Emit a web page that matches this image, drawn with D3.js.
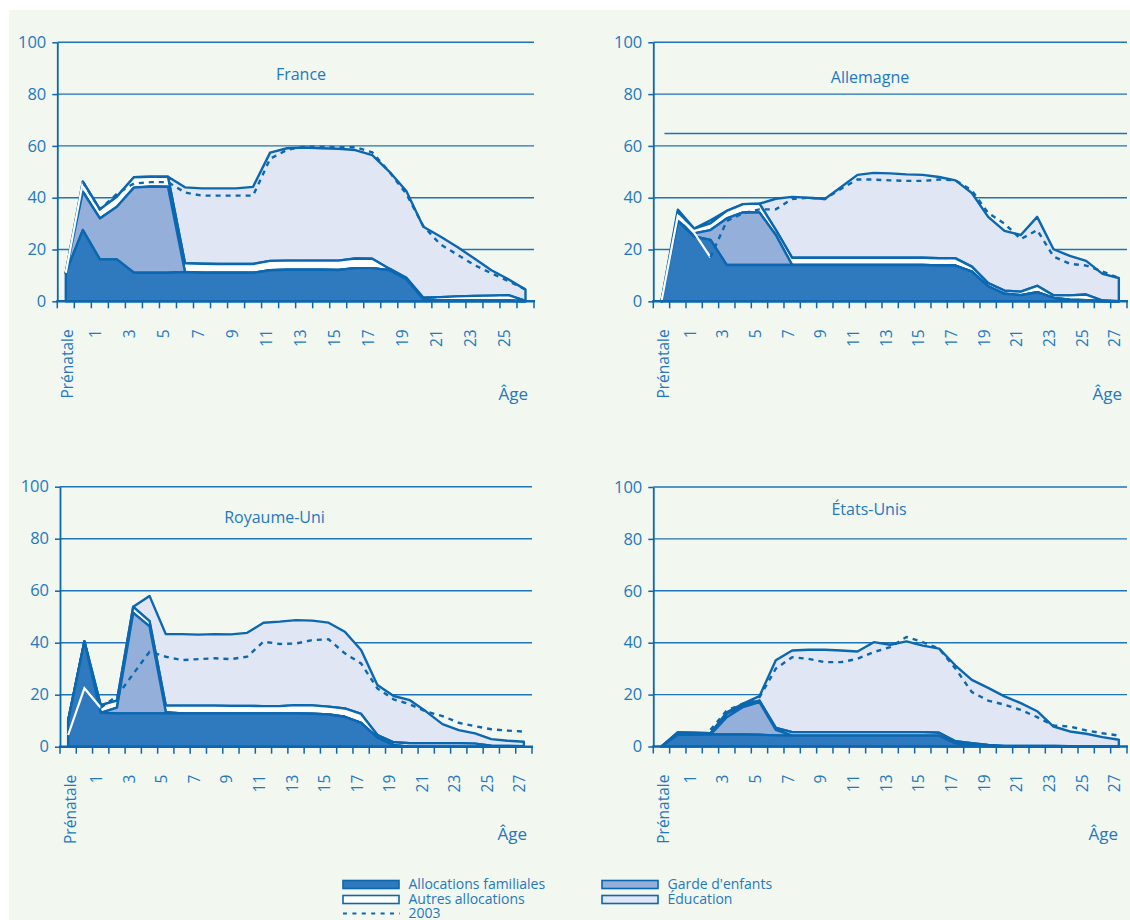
<!DOCTYPE html>
<html>
<head>
<meta charset="utf-8">
<script src="https://cdn.jsdelivr.net/npm/d3@7"></script>
<style>
  body { margin: 0; background: #fff; }
  svg text { font-family: 'Open Sans', sans-serif; fill: #2479be; }
</style>
</head>
<body>
<div id="chart"></div>
<script>
// categories
var catsFR = ['Prénatale','0','1','2','3','4','5','6','7','8','9','10','11','12','13','14','15','16','17','18','19','20','21','22','23','24','25','26'];
var cats = ['Prénatale','0','1','2','3','4','5','6','7','8','9','10','11','12','13','14','15','16','17','18','19','20','21','22','23','24','25','26','27'];
var labelsFR = ['Prénatale','1','3','5','7','9','11','13','15','17','19','21','23','25'];
var labels = ['Prénatale','1','3','5','7','9','11','13','15','17','19','21','23','25','27'];
var yTicks = [0, 20, 40, 60, 80, 100];

// France
var franceAF     = [11, 27.5, 16.2, 16.2, 11, 11, 11, 11.3, 11, 11, 11, 11, 12, 12.2, 12.2, 12.2, 12.1, 12.8, 12.8, 12, 8.5, 0.8, 0.3, 0.3, 0.3, 0.3, 0.3, 0];
var franceGarde  = [0, 14.8, 15.8, 20.3, 32.9, 33.3, 33.2, 0, 0, 0, 0, 0, 0, 0, 0, 0, 0, 0, 0, 0, 0, 0, 0, 0, 0, 0, 0, 0];
var franceAutres = [0, 3.9, 3.5, 3.9, 4, 3.8, 3.9, 3.4, 3.5, 3.4, 3.4, 3.4, 3.6, 3.5, 3.5, 3.5, 3.6, 3.7, 3.6, 0.6, 0.6, 0.6, 1.3, 1.6, 1.8, 1.9, 2.1, 0.2];
var franceEdu    = [0, 0, 0, 0, 0, 0, 0, 29.3, 29.1, 29.2, 29.2, 29.8, 41.8, 43.4, 43.7, 43.4, 43.2, 41.9, 40, 37.5, 33.5, 27.4, 23.4, 19.1, 14.4, 9.8, 6.1, 4.3];
var france2003   = [11, 46, 35.5, 41.5, 45.5, 46, 46, 42, 40.8, 40.8, 40.8, 40.8, 55, 58.5, 59.7, 59.7, 59.5, 59.5, 57.5, 50, 41.5, 29, 22, 18, 14, 10.8, 7.8, 4.6];

// Allemagne
var germanyAF     = [0, 31, 25, 23.7, 14, 14, 14, 14, 14, 14, 14, 14, 14, 14, 14, 14, 14, 13.8, 13.8, 11.5, 5.8, 2.9, 2.4, 3.5, 1.3, 0.6, 0.4, 0, 0];
var germanyGarde  = [0, 0, 1.2, 3.8, 18, 20.3, 20.3, 11.6, 0, 0, 0, 0, 0, 0, 0, 0, 0, 0, 0, 0, 0, 0, 0, 0, 0, 0, 0, 0, 0];
var germanyAutres = [0, 3.4, 1.9, 2.6, 2.9, 3.2, 3.4, 2, 2.8, 2.8, 2.8, 2.8, 2.8, 2.8, 2.8, 2.8, 2.8, 2.8, 2.8, 1.9, 1.2, 1.2, 1.3, 2.5, 1, 1.7, 2.2, 0.3, 0];
var germanyEdu    = [0, 1, 0, 1.2, 0, 0, 0, 12, 23.5, 23.2, 22.7, 27.3, 32, 32.8, 32.6, 32.2, 32, 31.4, 30.1, 28.4, 25.6, 23.1, 21.9, 26.6, 17.8, 15.2, 13, 10.3, 9];
var germany2003   = [0, 33, 26.5, 17, 31, 34, 35.5, 35.5, 39.5, 40, 39.5, 43.5, 47, 47, 46.7, 46.5, 46.5, 47, 46.7, 42.8, 34.1, 30, 24, 27.5, 17.3, 14.5, 13.8, 11.5, 9];
var germanyRefLine = [64.8];

// Royaume-Uni
var ukAF     = [10, 40.5, 13, 12.8, 12.8, 12.8, 12.8, 12.8, 12.8, 12.8, 12.8, 12.8, 12.8, 12.8, 12.8, 12.7, 12.4, 11.5, 9.2, 3.5, 0.6, 0, 0, 0, 0, 0, 0, 0, 0];
var ukGarde  = [0, 0, 0, 2.2, 38.7, 33.5, 0.5, 0, 0, 0, 0, 0, 0, 0, 0, 0, 0, 0, 0, 0, 0, 0, 0, 0, 0, 0, 0, 0, 0];
var ukAutres = [0, 0, 3, 2.7, 2.3, 2, 2.5, 3, 3, 3, 2.9, 2.9, 2.8, 2.8, 3.2, 3.2, 3, 3.2, 3.4, 1, 1.1, 1.3, 1.3, 1.3, 1.3, 1.2, 0.4, 0.3, 0.2];
var ukEdu    = [0, 0, 0, 0, 0, 9.7, 27.5, 27.5, 27.3, 27.5, 27.5, 28.1, 32.1, 32.5, 32.7, 32.6, 32.3, 29.5, 24.6, 19.2, 17.8, 16.6, 12.2, 7.4, 5.1, 3.9, 2.5, 2, 1.7];
var uk2003   = [4.5, 22.5, 15, 19.5, 28, 36.5, 34.6, 33.3, 33.7, 34, 33.7, 34.6, 40.4, 39.5, 39.7, 41, 41.3, 35.9, 32, 22.4, 18.2, 16.3, 13.5, 11.8, 9.2, 7.9, 6.7, 6.2, 5.8];

// États-Unis
var usAF     = [0, 4.5, 4.5, 4.6, 4.6, 4.6, 4.5, 4.3, 4.2, 4.2, 4.2, 4.2, 4.2, 4.2, 4.2, 4.2, 4.2, 4.2, 1.2, 0.6, 0.3, 0, 0, 0, 0, 0, 0, 0, 0];
var usGarde  = [0, 0, 0, 0, 6.7, 10.6, 12.6, 2.1, 0, 0, 0, 0, 0, 0, 0, 0, 0, 0, 0, 0, 0, 0, 0, 0, 0, 0, 0, 0, 0];
var usAutres = [0, 0.8, 0.8, 0.5, 1.2, 0.8, 0.6, 0.8, 1.3, 1.3, 1.3, 1.3, 1.3, 1.3, 1.3, 1.3, 1.3, 1.1, 0.8, 0.7, 0.3, 0.2, 0.2, 0.2, 0.2, 0.1, 0.1, 0, 0];
var usEdu    = [0, 0.2, 0, 0, 0.7, 0.5, 1.7, 26, 31.5, 31.8, 31.8, 31.5, 31.1, 34.7, 33.7, 35, 33.4, 32.4, 29.2, 24.4, 22, 19.1, 16.5, 13.4, 7.5, 5.7, 4.8, 3.6, 2.6];
var us2003   = [null, null, null, 6.4, 13.9, 16.5, 19, 30, 34.4, 33.8, 32.5, 32.5, 33.8, 36.4, 38.3, 42.2, 40.2, 37.7, 30, 21, 17.7, 16.1, 14.1, 11.3, 8.1, 7.7, 6.2, 5.1, 4.2];

var legendItems = [
  { key: 'af', label: 'Allocations familiales' },
  { key: 'garde', label: "Garde d'enfants" },
  { key: 'autres', label: 'Autres allocations' },
  { key: 'edu', label: 'Éducation' },
  { key: 'y2003', label: '2003' }
];

var lineColor = '#0b67b0';
var gridColor = '#1f74b9';
var textColor = '#2479be';
var fills = { af: '#2f7abf', garde: '#94b0da', autres: '#ffffff', edu: '#e0e6f4' };

var panels = [
  { title: 'France', cats: catsFR, labels: labelsFR, af: franceAF, garde: franceGarde, autres: franceAutres, edu: franceEdu, y2003: france2003, white2003: 1,
    x0: 57.3, x1: 534, y0: 301.3, y100: 42.3, tx: 301, ty: 80, ax: 528, ay: 400 },
  { title: 'Allemagne', cats: cats, labels: labels, af: germanyAF, garde: germanyGarde, autres: germanyAutres, edu: germanyEdu, y2003: germany2003, white2003: 3,
    refLine: germanyRefLine, x0: 653.3, x1: 1127, y0: 301.3, y100: 42.3, tx: 870, ty: 83, ax: 1122, ay: 400 },
  { title: 'Royaume-Uni', cats: cats, labels: labels, af: ukAF, garde: ukGarde, autres: ukAutres, edu: ukEdu, y2003: uk2003, white2003: 2,
    x0: 60, x1: 532, y0: 746.7, y100: 486.7, tx: 274.5, ty: 523, ax: 527, ay: 840 },
  { title: 'États-Unis', cats: cats, labels: labels, af: usAF, garde: usGarde, autres: usAutres, edu: usEdu, y2003: us2003, white2003: 0,
    x0: 653.3, x1: 1127, y0: 746.5, y100: 487, tx: 869, ty: 515, ax: 1118, ay: 840 }
];

var W = 1130, H = 920;
var svg = d3.select('#chart').append('svg').attr('width', W).attr('height', H);

svg.append('rect')
  .attr('x', 9).attr('y', 10)
  .attr('width', W - 9).attr('height', H - 10)
  .attr('fill', '#f2f7f0');

panels.forEach(drawPanel);
drawLegend();

function drawPanel(p) {
  var g = svg.append('g');
  var x = d3.scaleBand().domain(p.cats).range([p.x0, p.x1]);
  var y = d3.scaleLinear().domain([0, 100]).range([p.y0, p.y100]);
  var cx = function(c) { return x(c) + x.bandwidth() / 2; };

  // gridlines
  g.selectAll('line.grid')
    .data(yTicks.filter(function(v) { return v > 0; }))
    .join('line')
    .attr('class', 'grid')
    .attr('x1', p.x0).attr('x2', p.x1)
    .attr('y1', function(d) { return y(d); })
    .attr('y2', function(d) { return y(d); })
    .attr('stroke', gridColor)
    .attr('stroke-width', 1.4);

  if (p.refLine) {
    g.selectAll('line.ref')
      .data(p.refLine)
      .join('line')
      .attr('class', 'ref')
      .attr('x1', cx(p.cats[0]) + 3).attr('x2', p.x1)
      .attr('y1', function(d) { return y(d); })
      .attr('y2', function(d) { return y(d); })
      .attr('stroke', gridColor)
      .attr('stroke-width', 1.4);
  }

  // stacked areas
  var rows = p.cats.map(function(c, i) {
    return { cat: c, af: p.af[i], garde: p.garde[i], autres: p.autres[i], edu: p.edu[i] };
  });
  var layers = d3.stack().keys(['af', 'garde', 'autres', 'edu'])(rows);
  var area = d3.area()
    .x(function(d) { return cx(d.data.cat); })
    .y0(function(d) { return y(d[0]); })
    .y1(function(d) { return y(d[1]); });

  g.selectAll('path.layer')
    .data(layers.slice().reverse())
    .join('path')
    .attr('class', 'layer')
    .attr('d', area)
    .attr('fill', function(d) { return fills[d.key]; })
    .attr('stroke', lineColor)
    .attr('stroke-width', 2.4)
    .attr('stroke-linejoin', 'round');

  // 2003 line
  var pts = p.cats.map(function(c, i) { return { cat: c, v: p.y2003[i] }; });
  var line = d3.line()
    .defined(function(d) { return d.v != null; })
    .x(function(d) { return cx(d.cat); })
    .y(function(d) { return y(d.v); });

  if (p.white2003 > 0) {
    g.append('path')
      .attr('d', line(pts.slice(0, p.white2003 + 1)))
      .attr('fill', 'none')
      .attr('stroke', '#ffffff')
      .attr('stroke-width', 2.2);
  }
  g.append('path')
    .attr('d', line(pts.slice(p.white2003)))
    .attr('fill', 'none')
    .attr('stroke', lineColor)
    .attr('stroke-width', 2.4)
    .attr('stroke-dasharray', '5,5');

  // y axis
  var yAxis = d3.axisLeft(y).tickValues(yTicks).tickSize(5).tickSizeOuter(0).tickPadding(6);
  var ya = g.append('g')
    .attr('transform', 'translate(' + p.x0 + ',0)')
    .call(yAxis);
  ya.select('.domain').attr('stroke', lineColor).attr('stroke-width', 1.8);
  ya.selectAll('.tick line').attr('stroke', lineColor).attr('stroke-width', 1.5);
  ya.selectAll('.tick text')
    .attr('font-size', 16.5)
    .attr('font-family', "'Open Sans', sans-serif")
    .attr('fill', textColor);

  // x axis
  var edges = p.cats.map(function(c) { return x(c); }).concat([p.x1]);
  g.selectAll('line.xtick')
    .data(edges)
    .join('line')
    .attr('class', 'xtick')
    .attr('x1', function(d) { return d; })
    .attr('x2', function(d) { return d; })
    .attr('y1', p.y0)
    .attr('y2', p.y0 + 7)
    .attr('stroke', lineColor)
    .attr('stroke-width', 1.5);

  g.append('line')
    .attr('x1', p.x0 - 1).attr('x2', p.x1 + 1)
    .attr('y1', p.y0).attr('y2', p.y0)
    .attr('stroke', lineColor)
    .attr('stroke-width', 2.6);

  g.selectAll('text.xlab')
    .data(p.labels)
    .join('text')
    .attr('class', 'xlab')
    .attr('transform', function(d) { return 'translate(' + cx(d) + ',' + (p.y0 + 28) + ') rotate(-90)'; })
    .attr('text-anchor', 'end')
    .attr('dy', function(d) { return d === 'Prénatale' ? 7.5 : 1.5; })
    .attr('font-size', 15.5)
    .text(function(d) { return d; });

  // title and axis name
  g.append('text')
    .attr('x', p.tx).attr('y', p.ty)
    .attr('text-anchor', 'middle')
    .attr('font-size', 16)
    .text(p.title);

  g.append('text')
    .attr('x', p.ax).attr('y', p.ay)
    .attr('text-anchor', 'end')
    .attr('font-size', 17)
    .text('Âge');
}

function drawLegend() {
  var pos = {
    af: [343, 884.5], garde: [602, 884.5],
    autres: [343, 899.5], edu: [602, 899.5],
    y2003: [343, 913.5]
  };
  var lg = svg.append('g');
  legendItems.forEach(function(it) {
    var p = pos[it.key];
    if (it.key === 'y2003') {
      lg.append('line')
        .attr('x1', p[0]).attr('x2', p[0] + 57)
        .attr('y1', p[1]).attr('y2', p[1])
        .attr('stroke', lineColor)
        .attr('stroke-width', 2.2)
        .attr('stroke-dasharray', '4,5.4');
    } else {
      lg.append('rect')
        .attr('x', p[0]).attr('y', p[1] - 4)
        .attr('width', 56).attr('height', 8)
        .attr('fill', fills[it.key])
        .attr('stroke', lineColor)
        .attr('stroke-width', 1.6);
    }
    lg.append('text')
      .attr('x', p[0] + 65.5)
      .attr('y', p[1] + 4.5)
      .attr('font-size', 14)
      .text(it.label);
  });
}
</script>
</body>
</html>
